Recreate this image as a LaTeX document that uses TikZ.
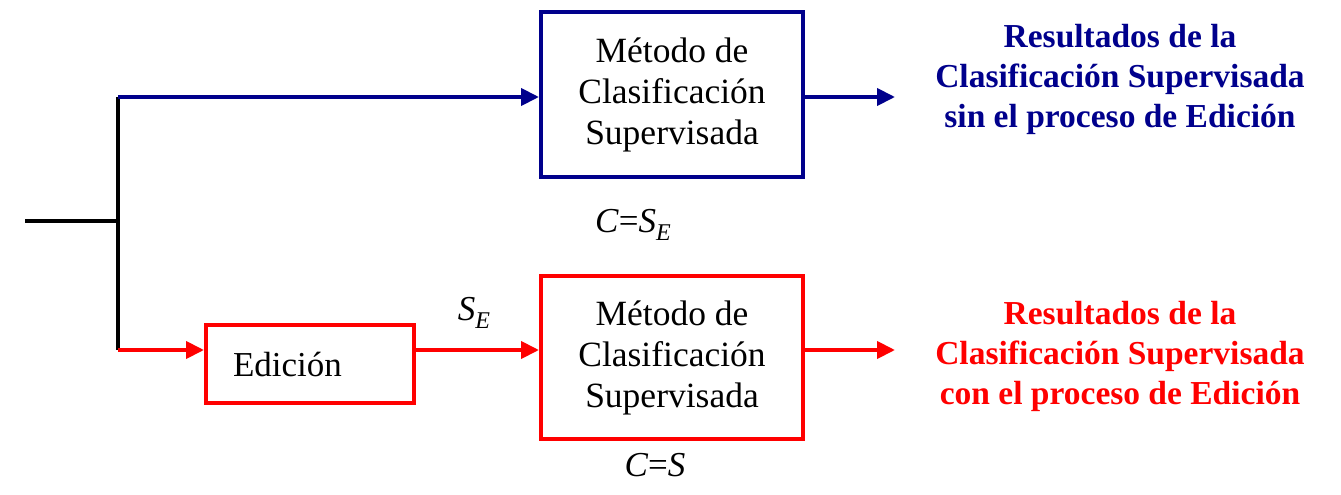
\documentclass[tikz,border=0pt]{standalone}
\usepackage{fontspec}
\setmainfont{Liberation Serif}
\usetikzlibrary{arrows.meta}
\definecolor{navy}{RGB}{0,0,140}
\definecolor{pured}{RGB}{255,0,0}
\newcommand{\subE}{\raisebox{-0.22em}{\fontsize{24}{24}\selectfont\textit{E}}}
\begin{document}
\begin{tikzpicture}[x=1pt,y=-1pt, line width=4pt,
  tip/.style={-{Triangle[length=18pt,width=17pt]}},
  box/.style={draw,minimum width=262pt,minimum height=165pt,align=center,inner sep=0pt,font=\fontsize{35.5}{41}\selectfont},
  res/.style={align=center,font=\bfseries\fontsize{33.5}{40}\selectfont},
  lab/.style={font=\fontsize{35}{40}\selectfont, inner sep=0pt}]
\useasboundingbox (0,0) rectangle (1341,495);
\coordinate (in) at (25,221);
\coordinate (j) at (118,221);
\coordinate (jt) at (118,97);
\coordinate (jb) at (118,350);
\node[box,draw=navy] (m1) at (672,94.5) {Método de\\Clasificación\\Supervisada};
\node[box,draw=pured,minimum height=163pt] (m2) at (672,357.5) {Método de\\Clasificación\\Supervisada};
\node[draw=pured,minimum height=78pt,text width=154pt,inner xsep=27pt,inner ysep=0pt,align=left,font=\fontsize{35}{40}\selectfont] (ed) at (310,364) {Edición};
\coordinate (o1) at (895,97);
\coordinate (o2) at (895,350);
\node[res,text=navy] (r1) at (1120,79) {Resultados de la\\Clasificación Supervisada\\sin el proceso de Edición};
\node[res,text=pured] (r2) at (1120,356) {Resultados de la\\Clasificación Supervisada\\con el proceso de Edición};
\node[lab] (c1) at (633,225) {\textit{C}=\textit{S}\subE};
\node[lab] (se) at (474,313) {\textit{S}\subE};
\node[lab] (c2) at (655,465) {\textit{C}=\textit{S}};
\draw (in) -- (j);
\draw (jt) -- (jb);
\draw[navy,tip] (jt) -- (m1.west |- jt);
\draw[navy,tip] (m1.east |- o1) -- (o1);
\draw[pured,tip] (jb) -- (ed.west |- jb);
\draw[pured,tip] (ed.east |- jb) -- (m2.west |- jb);
\draw[pured,tip] (m2.east |- o2) -- (o2);
\end{tikzpicture}
\end{document}
